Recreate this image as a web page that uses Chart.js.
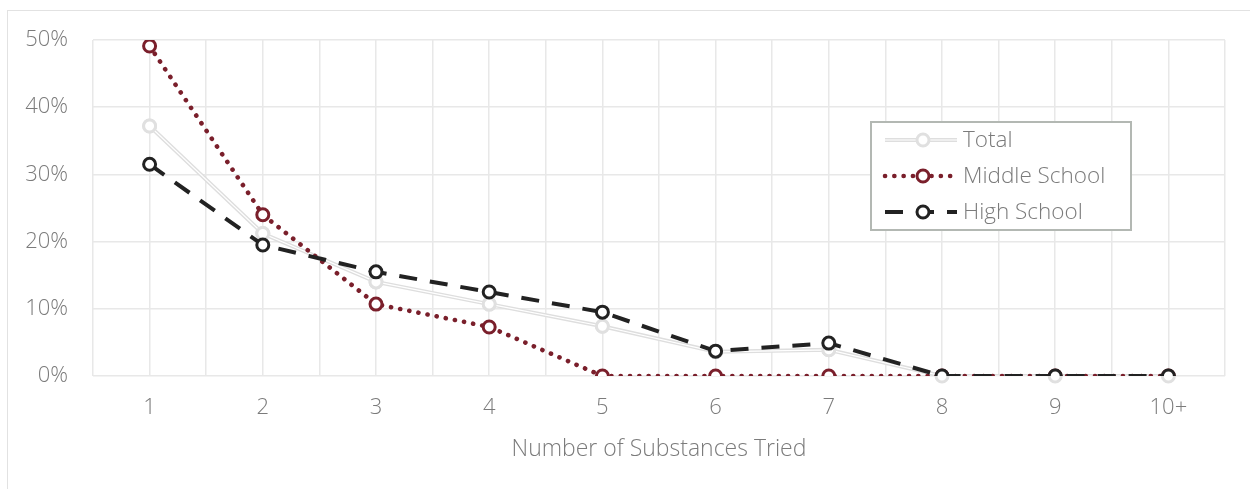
<!DOCTYPE html>
<html>
<head>
<meta charset="utf-8">
<script src="https://cdn.jsdelivr.net/npm/chart.js@4.4.1/dist/chart.umd.min.js"></script>
<style>
  body { margin: 0; background: #fff; }
  #wrap { position: relative; width: 1250px; height: 489px; }
  #frame { position: absolute; left: 7px; top: 10px; width: 1260px; height: 500px;
           border-top: 1.5px solid #e2e2e2; border-left: 1.5px solid #e2e2e2; }
  canvas { position: absolute; left: 0; top: 0; }
</style>
</head>
<body>
<div id="wrap">
  <div id="frame"></div>
  <canvas id="chart" width="1250" height="489"></canvas>
</div>
<script>
// categories on the x axis
const categories = ['1', '2', '3', '4', '5', '6', '7', '8', '9', '10+'];

// percent of students
const totalValues  = [37.2, 21.2, 14.0, 10.7, 7.4, 3.6, 3.9, 0, 0, 0];
const middleValues = [49.1, 24.0, 10.7, 7.3, 0, 0, 0, 0, 0, 0];
const highValues   = [31.5, 19.5, 15.5, 12.5, 9.5, 3.7, 4.9, 0, 0, 0];

const yTicks = [0, 10, 20, 30, 40, 50];

const FONT = "'Open Sans', 'Lato', sans-serif";
const TEXT = '#7b7b7b';

function toPoints(values) {
    return values.map((v, i) => ({ x: i + 1, y: v }));
}

// draws the "Total" line as a double (compound) line
const doubleLine = {
    id: 'doubleLine',
    afterDatasetDraw(chart, args) {
        const ds = chart.data.datasets[args.index];
        if (!ds.doubleLine) return;
        const ctx = chart.ctx;
        const meta = args.meta;
        ctx.save();
        ctx.beginPath();
        meta.dataset.path(ctx);
        ctx.strokeStyle = '#ffffff';
        ctx.lineWidth = 1.2;
        ctx.setLineDash([]);
        ctx.stroke();
        ctx.restore();
        meta.data.forEach(p => p.draw(ctx, chart.chartArea));
    }
};

// legend box inside the plot, with line samples
const boxLegend = {
    id: 'boxLegend',
    afterDraw(chart) {
        const ctx = chart.ctx;
        const area = chart.chartArea;
        const bx = area.left + 778, by = area.top + 82, bw = 260, bh = 108;
        ctx.save();
        ctx.fillStyle = '#ffffff';
        ctx.fillRect(bx, by, bw, bh);
        ctx.strokeStyle = '#b3b8b3';
        ctx.lineWidth = 2;
        ctx.strokeRect(bx, by, bw, bh);

        [0, 1, 2].forEach((i, r) => {
            const ds = chart.data.datasets[i];
            const y = by + 18 + r * 36;
            const x0 = bx + 14, x1 = bx + 86, xm = bx + 52;
            ctx.beginPath();
            ctx.moveTo(x0, y);
            ctx.lineTo(x1, y);
            ctx.strokeStyle = ds.borderColor;
            ctx.lineWidth = ds.borderWidth;
            ctx.lineCap = ds.borderCapStyle || 'butt';
            ctx.setLineDash(ds.borderDash || []);
            ctx.stroke();
            if (ds.doubleLine) {
                ctx.beginPath();
                ctx.moveTo(x0, y);
                ctx.lineTo(x1, y);
                ctx.strokeStyle = '#fff';
                ctx.lineWidth = 1.2;
                ctx.setLineDash([]);
                ctx.stroke();
            }
            ctx.setLineDash([]);
            ctx.beginPath();
            ctx.arc(xm, y, ds.pointRadius, 0, Math.PI * 2);
            ctx.fillStyle = '#fff';
            ctx.fill();
            ctx.lineWidth = ds.pointBorderWidth;
            ctx.strokeStyle = ds.pointBorderColor;
            ctx.stroke();

            ctx.fillStyle = TEXT;
            ctx.font = '300 22.5px ' + FONT;
            ctx.textBaseline = 'middle';
            ctx.textAlign = 'left';
            ctx.fillText(ds.label, bx + 92, y + 1);
        });
        ctx.restore();
    }
};

const ctx = document.getElementById('chart').getContext('2d');
new Chart(ctx, {
    type: 'line',
    data: {
        datasets: [
            {
                label: 'Total',
                data: toPoints(totalValues),
                borderColor: '#dedede',
                borderWidth: 4,
                doubleLine: true,
                pointRadius: 6,
                pointBorderWidth: 3,
                pointBorderColor: '#e0e0e0',
                pointBackgroundColor: '#ffffff',
                order: 3
            },
            {
                label: 'Middle School',
                data: toPoints(middleValues),
                borderColor: '#7a1f2b',
                borderWidth: 4.6,
                borderDash: [0.1, 9.2],
                borderCapStyle: 'round',
                pointRadius: 6,
                pointBorderWidth: 3,
                pointBorderColor: '#7a1f2b',
                pointBackgroundColor: '#ffffff',
                order: 2
            },
            {
                label: 'High School',
                data: toPoints(highValues),
                borderColor: '#222222',
                borderWidth: 4,
                borderDash: [18, 13],
                pointRadius: 6,
                pointBorderWidth: 3,
                pointBorderColor: '#222222',
                pointBackgroundColor: '#ffffff',
                order: 1
            }
        ]
    },
    options: {
        responsive: false,
        animation: false,
        layout: { padding: { left: 0, top: 40, right: 25, bottom: 0 } },
        plugins: {
            legend: { display: false },
            tooltip: { enabled: false }
        },
        scales: {
            x: {
                type: 'linear',
                min: 0.5,
                max: 10.5,
                afterBuildTicks(scale) {
                    const t = [];
                    for (let v = 0.5; v <= 10.5; v += 0.5) t.push({ value: v });
                    scale.ticks = t;
                },
                afterFit(scale) { scale.height = 113; },
                grid: { color: '#e8e8e8', lineWidth: 1.5, drawTicks: false },
                border: { display: false },
                ticks: {
                    autoSkip: false,
                    maxRotation: 0,
                    padding: 19,
                    color: TEXT,
                    font: { family: FONT, size: 22, weight: 300 },
                    callback: v => Number.isInteger(v) ? categories[v - 1] : ''
                },
                title: {
                    display: true,
                    text: 'Number of Substances Tried',
                    color: TEXT,
                    font: { family: FONT, size: 23, weight: 300 },
                    padding: { top: 0, bottom: 26 }
                }
            },
            y: {
                min: 0,
                max: 50,
                afterBuildTicks(scale) {
                    scale.ticks = yTicks.map(v => ({ value: v }));
                },
                afterFit(scale) { scale.width = 93; },
                grid: { color: '#e8e8e8', lineWidth: 1.5, drawTicks: false },
                border: { display: false },
                ticks: {
                    padding: 25,
                    color: TEXT,
                    font: { family: FONT, size: 22, weight: 300 },
                    callback: v => v + '%'
                }
            }
        }
    },
    plugins: [doubleLine, boxLegend]
});
</script>
</body>
</html>
